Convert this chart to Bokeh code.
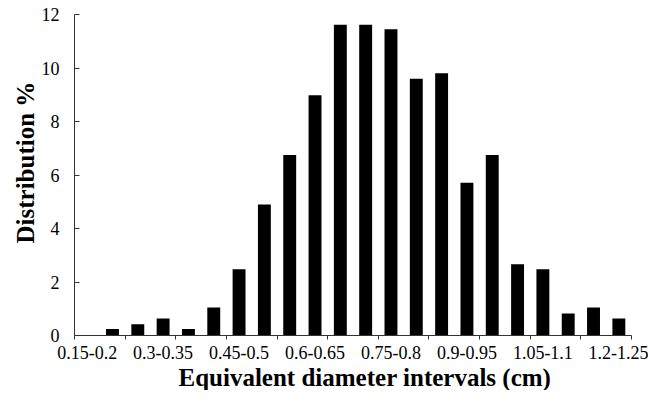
from bokeh.plotting import figure
from bokeh.models import ColumnDataSource, FixedTicker, Range1d, Title
from bokeh.embed import file_html
from bokeh.resources import INLINE

# ---- data ----
categories = ["0.15-0.2", "0.2-0.25", "0.25-0.3", "0.3-0.35", "0.35-0.4", "0.4-0.45",
              "0.45-0.5", "0.5-0.55", "0.55-0.6", "0.6-0.65", "0.65-0.7", "0.7-0.75",
              "0.75-0.8", "0.8-0.85", "0.85-0.9", "0.9-0.95", "0.95-1.0", "1.0-1.05",
              "1.05-1.1", "1.1-1.15", "1.15-1.2", "1.2-1.25"]
distribution = [0.0, 0.24, 0.42, 0.64, 0.24, 1.05,
                2.48, 4.9, 6.75, 8.98, 11.62, 11.62,
                11.45, 9.6, 9.8, 5.71, 6.75, 2.66,
                2.48, 0.82, 1.05, 0.64]
label_step = 3          # every third category is labelled
boundary_step = 2       # tick marks every second category boundary
y_ticks = [0, 2, 4, 6, 8, 10, 12]
x_title = "Equivalent diameter intervals (cm)"
y_title = "Distribution %"

FONT = "Liberation Serif"
AXIS = "#333333"

n = len(categories)
xs = [i + 0.5 for i in range(n)]
src = ColumnDataSource(dict(x=xs, top=distribution, cat=categories))

p = figure(width=648, height=390, output_backend="svg", toolbar_location=None,
           x_range=Range1d(0, n), y_range=Range1d(0, 12),
           min_border_left=74, min_border_right=17, min_border_top=14, min_border_bottom=0)
p.outline_line_color = None
p.xgrid.grid_line_color = None
p.ygrid.grid_line_color = None
p.background_fill_color = "white"
p.border_fill_color = "white"

p.vbar(x="x", top="top", width=0.51, bottom=0, source=src,
       fill_color="black", line_color=None)

# x axis: labels at every third category, tick marks at every second boundary
label_pos = xs[::label_step]
boundaries = list(range(0, n + 1, boundary_step))
xa = p.xaxis[0]
xa.ticker = FixedTicker(ticks=label_pos, minor_ticks=boundaries)
xa.major_label_overrides = {xs[i]: categories[i] for i in range(0, n, label_step)}
xa.major_tick_in = 0
xa.major_tick_out = 0
xa.minor_tick_in = 0
xa.minor_tick_out = 4
xa.minor_tick_line_color = AXIS
xa.axis_line_color = AXIS
xa.major_label_standoff = 6
xa.major_label_text_font = FONT
xa.major_label_text_font_size = "18px"
xa.major_label_text_color = "black"

ya = p.yaxis[0]
ya.ticker = FixedTicker(ticks=y_ticks, minor_ticks=[])
ya.major_tick_in = 5
ya.major_tick_out = 0
ya.minor_tick_in = 0
ya.minor_tick_out = 0
ya.major_tick_line_color = AXIS
ya.axis_line_color = AXIS
ya.major_label_standoff = 15
ya.major_label_text_font = FONT
ya.major_label_text_font_size = "18px"
ya.major_label_text_color = "black"

# axis titles
p.add_layout(Title(text=x_title, align="left", offset=104, standoff=0,
                   text_font=FONT, text_font_size="25px", text_font_style="bold",
                   text_color="black"), "below")
p.add_layout(Title(text=y_title, align="left", offset=92, standoff=0,
                   text_font=FONT, text_font_size="25px", text_font_style="bold",
                   text_color="black"), "left")

open("out.html", "w").write(file_html(p, INLINE))
